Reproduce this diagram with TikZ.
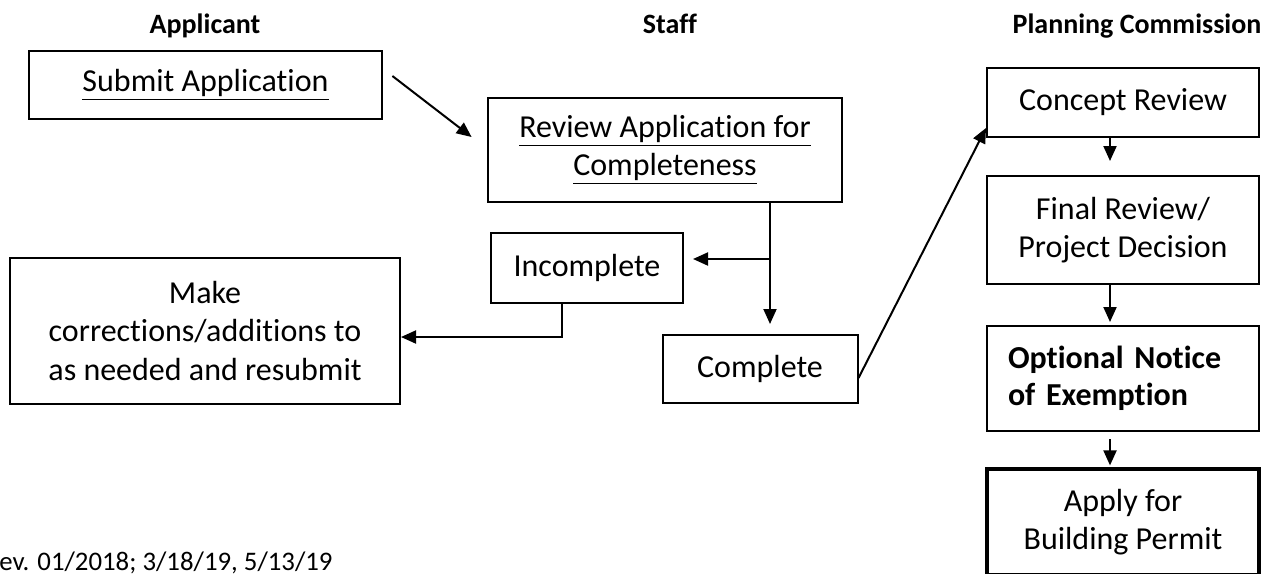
\documentclass[tikz,border=0pt]{standalone}
\usepackage{fontspec}
\setmainfont{Carlito}[Ligatures=NoCommon]
\usetikzlibrary{arrows.meta,positioning}

\begin{document}
\begin{tikzpicture}[x=0.5pt,y=-0.5pt,
  box/.style={draw,line width=1pt,inner sep=0pt,align=center,
    font=\fontsize{16pt}{19.3pt}\selectfont},
  heavybox/.style={box,line width=1.4pt},
  head/.style={anchor=base,font=\fontsize{14pt}{17pt}\selectfont\bfseries},
  arr/.style={line width=1pt,-{Triangle[length=7.5pt,width=6.5pt]}}]

  % 畫框
  \useasboundingbox (0,0) rectangle (1268,573);
  \clip (0,0) rectangle (1268,573);

  % 欄位標題
  \node[head] (hApplicant) at (205,33) {Applicant};
  \node[head] (hStaff) at (670,33) {Staff};
  \node[head] (hCommission) at (1137,33) {Planning Commission};

  % 申請人
  \node[heavybox,minimum width=176.5pt,minimum height=34pt] (submit) at (205.5,85)
    {\underline{Submit Application}};
  \node[box,minimum width=195pt,minimum height=73pt] (fix) at (205,331)
    {Make\\corrections/additions to\\as needed and resubmit};

  % 職員
  \node[heavybox,minimum width=177pt,minimum height=52pt] (review) at (665,150)
    {\underline{Review Application for}\\\underline{Completeness}};
  \node[box,minimum width=96pt,minimum height=35pt] (incomplete) at (587,268) {Incomplete};
  \node[box,minimum width=97.5pt,minimum height=34pt] (complete) at (760,369) {Complete};

  % 委員會
  \node[box,minimum width=136pt,minimum height=34.5pt] (concept) at (1123,102.5) {Concept Review};
  \node[box,minimum width=136pt,minimum height=54pt] (final) at (1123,230)
    {Final Review/\\Project Decision};
  \node[box,text width=115pt,inner xsep=10.5pt,minimum height=52.5pt,align=left,
    font=\fontsize{16pt}{18.5pt}\selectfont\bfseries] (notice) at (1123,378.5)
    {Optional Notice\\of Exemption};
  \node[heavybox,line width=1.6pt,minimum width=136pt,minimum height=53pt] (permit) at (1123,522)
    {Apply for\\Building Permit};

  % 修訂日期
  \node[anchor=base west,inner sep=0pt,font=\fontsize{13.4pt}{16pt}\selectfont] (revnote)
    at (-15,570) {Rev. 01/2018; 3/18/19, 5/13/19};

  % 連線
  \draw[arr] ([shift={(9,-9)}]submit.east) -- ([shift={(-15,-13)}]review.west);
  \coordinate (split) at ([xshift=52.5pt]review.south);
  \coordinate (incIn) at ([yshift=4.5pt]incomplete.east);
  \draw[arr,shorten >=5pt] (split) -- (split |- complete.north);
  \draw[arr,shorten >=4.5pt] (split |- incIn) -- (incIn);
  \draw[arr] ([xshift=-12.5pt]incomplete.south) |- ([yshift=-3pt]fix.east);
  \draw[arr] ([yshift=-4.5pt]complete.east) -- ([yshift=-12.75pt]concept.west);
  \draw[arr,shorten >=7pt] ([xshift=-6.5pt]concept.south) -- ([xshift=-6.5pt]final.north);
  \draw[arr,shorten >=1.5pt] ([xshift=-6.5pt]final.south) -- ([xshift=-6.5pt]notice.north);
  \draw[arr,shorten <=3.5pt,shorten >=1pt] ([xshift=-6.5pt]notice.south) -- ([xshift=-6.5pt]permit.north);
\end{tikzpicture}
\end{document}
